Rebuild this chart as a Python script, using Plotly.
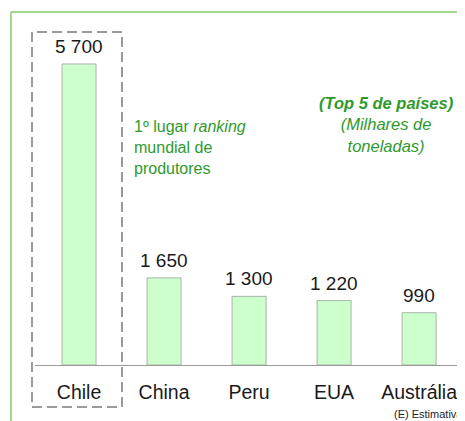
import plotly.graph_objects as go

categories = ["Chile", "China", "Peru", "EUA", "Austrália"]
values = [5700, 1650, 1300, 1220, 990]
value_labels = [f"{v:,}".replace(",", " ") for v in values]

# The page body adds an 8px margin; size the figure so it fits the 465x421 window.
OFF = 8
W, H = 465 - OFF, 421 - OFF
ML, MB = 27, 56
PW, PH = W - ML, H - MB
FONT = "Liberation Sans, Arial"


def px_x(x):
    return (x - OFF - ML) / PW


def px_y(y):
    return (H - (y - OFF) - MB) / PH


fig = go.Figure()
fig.add_trace(go.Bar(
    x=list(range(len(categories))), y=values, width=0.4,
    marker=dict(color="#ccffcc", line=dict(color="#a8b4a8", width=1)),
    hoverinfo="skip",
))

for i, (v, lab) in enumerate(zip(values, value_labels)):
    fig.add_annotation(x=i, y=v, xref="x", yref="y", text=lab, showarrow=False,
                       yanchor="bottom", yshift=5,
                       font=dict(family=FONT, size=19, color="#1a1a1a"))

green = "#2e9a2e"
fig.add_annotation(x=px_x(132), y=px_y(116), xref="paper", yref="paper", showarrow=False,
                   text="1º lugar <i>ranking</i><br>mundial de<br>produtores",
                   xanchor="left", yanchor="top", align="left",
                   font=dict(family=FONT, size=16, color=green))
fig.add_annotation(x=px_x(386), y=px_y(92), xref="paper", yref="paper", showarrow=False,
                   text="<b><i>(Top 5 de países)</i></b><br><i>(Milhares de<br>toneladas)</i>",
                   xanchor="center", yanchor="top", align="center",
                   font=dict(family=FONT, size=16.5, color=green))
fig.add_annotation(x=px_x(465), y=px_y(406), xref="paper", yref="paper", showarrow=False,
                   text="(E) Estimativa", xanchor="right", yanchor="top",
                   font=dict(family=FONT, size=11, color="#222222"))

fig.update_layout(
    width=W, height=H,
    margin=dict(l=ML, r=0, t=0, b=MB),
    paper_bgcolor="white", plot_bgcolor="white",
    showlegend=False,
    xaxis=dict(range=[-0.518, 4.54], tickmode="array", tickvals=list(range(len(categories))),
               ticktext=categories, showgrid=False, zeroline=False,
               showline=True, linecolor="#9a9a9a", linewidth=1,
               ticks="outside", ticklen=10, tickcolor="rgba(0,0,0,0)",
               tickfont=dict(family=FONT, size=19.5, color="#1a1a1a")),
    yaxis=dict(range=[0, 6760], visible=False),
)

# green frame
fig.add_shape(type="line", xref="paper", yref="paper", x0=px_x(11), x1=px_x(11), y0=px_y(12), y1=px_y(425),
              line=dict(color="#80cc66", width=1.5))
fig.add_shape(type="line", xref="paper", yref="paper", x0=px_x(11), x1=px_x(470), y0=px_y(12), y1=px_y(12),
              line=dict(color="#80cc66", width=1.5))
# dashed box around Chile
fig.add_shape(type="rect", xref="paper", yref="paper", x0=px_x(32), x1=px_x(122), y0=px_y(407), y1=px_y(32),
              line=dict(color="#9a9a9a", width=2, dash="10px,5px"))

fig.write_html("out.html")
